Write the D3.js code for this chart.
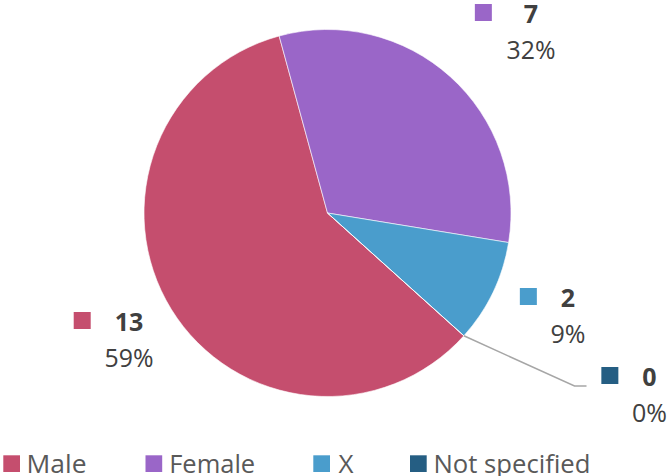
<!DOCTYPE html>
<html>
<head>
<meta charset="utf-8">
<script src="https://cdn.jsdelivr.net/npm/d3@7"></script>
<style>
  html, body { margin: 0; padding: 0; background: #fff; }
  svg { display: block; }
</style>
</head>
<body>
<svg id="chart" width="667" height="476"></svg>
<script>
// ---- data ----
const categories = ["Male", "Female", "X", "Not specified"];
const counts = [13, 7, 2, 0];
const colors = ["#C54E6E", "#9A66C8", "#4A9DCC", "#255E83"];

// ---- layout ----
const W = 667, H = 476;
const cx = 327.5, cy = 213, R = 183.5;
const startDeg = 132;
const labelFont = "'Open Sans', sans-serif";

const svg = d3.select("#chart");
const total = d3.sum(counts);
const pctFmt = v => Math.round(v / total * 100) + "%";

const pie = d3.pie().sort(null).value(d => d)
  .startAngle(startDeg * Math.PI / 180)
  .endAngle(startDeg * Math.PI / 180 + 2 * Math.PI);
const arcs = pie(counts);
const arc = d3.arc().innerRadius(0).outerRadius(R);

const g = svg.append("g").attr("transform", `translate(${cx},${cy})`);
g.selectAll("path.slice").data(arcs).enter().append("path")
  .attr("class", "slice")
  .attr("d", arc)
  .attr("fill", (d, i) => colors[i])
  .attr("stroke", "#fff")
  .attr("stroke-width", 0.6);

// data label anchors (centre x of label text, baseline of number line)
const labelAnchors = [
  { x: 129, y: 331 },   // Male
  { x: 531, y: 23 },    // Female
  { x: 568, y: 307 },   // X
  { x: 649.5, y: 386 }  // Not specified
];
const sqOffset = [0, 8, 0, 0];

// leader line for zero slice
arcs.forEach((a, i) => {
  if (a.value === 0) {
    const ang = a.startAngle;
    const p0 = [cx + R * Math.sin(ang), cy - R * Math.cos(ang)];
    const la = labelAnchors[i];
    const elbow = [la.x - 75, la.y];
    const end = [la.x - 63, la.y];
    svg.append("path")
      .attr("d", d3.line()([p0, elbow, end]))
      .attr("fill", "none")
      .attr("stroke", "#A6A6A6")
      .attr("stroke-width", 1.5);
  }
});

arcs.forEach((a, i) => {
  const la = labelAnchors[i];
  const num = svg.append("text")
    .attr("x", la.x).attr("y", la.y)
    .attr("text-anchor", "middle")
    .attr("font-family", labelFont)
    .attr("font-weight", "bold")
    .attr("font-size", 25)
    .attr("fill", "#404040")
    .text(counts[i]);
  svg.append("text")
    .attr("x", la.x).attr("y", la.y + 36)
    .attr("text-anchor", "middle")
    .attr("font-family", labelFont)
    .attr("font-size", 25)
    .attr("fill", "#404040")
    .attr("textLength", pctFmt(counts[i]).length === 3 ? 49 : 35)
    .attr("lengthAdjust", "spacingAndGlyphs")
    .text(pctFmt(counts[i]));
  const bb = num.node().getBBox();
  svg.append("rect")
    .attr("x", bb.x - 24 - 17 - sqOffset[i])
    .attr("y", la.y - 19)
    .attr("width", 17).attr("height", 17)
    .attr("fill", colors[i]);
});

// legend
const legendSqX = [3.3, 145.5, 313.3, 410];
const legendTx = [26.5, 169.2, 338.5, 433.5];
const legendW = [60, 86, 15, 157];
const leg = svg.append("g");
categories.forEach((c, i) => {
  leg.append("rect")
    .attr("x", legendSqX[i]).attr("y", 455.3)
    .attr("width", 16.7).attr("height", 16.7)
    .attr("fill", colors[i]);
  leg.append("text")
    .attr("x", legendTx[i]).attr("y", 472.5)
    .attr("font-family", labelFont)
    .attr("font-size", 26)
    .attr("fill", "#595959")
    .attr("textLength", legendW[i])
    .attr("lengthAdjust", "spacingAndGlyphs")
    .text(c);
});
</script>
</body>
</html>
